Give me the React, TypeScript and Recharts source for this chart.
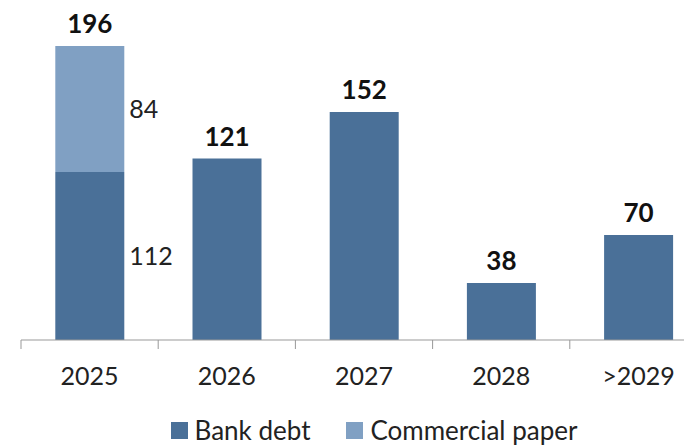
import { BarChart, Bar, XAxis, YAxis, LabelList, Legend } from 'recharts'

const years = ['2025', '2026', '2027', '2028', '>2029']
const bankDebt = [112, 121, 152, 38, 70]
const commercialPaper = [84, 0, 0, 0, 0]

const DARK = '#4a7098'
const LIGHT = '#80a0c3'
const FONT = 'Lato, "Open Sans", sans-serif'

// plot spans 21 → 707, wider than the visible 684px like the original
const CHART_W = 720
const PLOT_LEFT = 21
const PLOT_RIGHT = 707
const BAND = (PLOT_RIGHT - PLOT_LEFT) / years.length

const data = years.map((year, i) => ({
  year,
  bank: bankDebt[i],
  paper: commercialPaper[i],
  total: bankDebt[i] + commercialPaper[i],
}))

type TickProps = { x?: number; y?: number; payload?: { value: string } }

function YearTick({ x = 0, y = 0, payload }: TickProps) {
  const left = x - BAND / 2
  return (
    <g>
      <line x1={left} x2={left} y1={y - 8} y2={y + 1} stroke="#999" strokeWidth={1} />
      <text x={x} y={y + 37} textAnchor="middle" fill="#222" fontSize={25} fontFamily={FONT}>
        {payload?.value}
      </text>
    </g>
  )
}

type LabelProps = { x?: number; y?: number; width?: number; height?: number; value?: number; index?: number }

// segment values beside the stacked bar, only where there is commercial paper
function SideLabel({ x = 0, y = 0, width = 0, height = 0, value, index = 0 }: LabelProps) {
  if (!commercialPaper[index]) return null
  return (
    <text x={x + width + 5} y={y + height / 2} dy="0.36em" fill="#222" fontSize={25} fontFamily={FONT}>
      {value}
    </text>
  )
}

// total on top of the stack: drawn by the top-most non-empty segment
function makeTotal(onPaper: boolean) {
  return function TotalLabel({ x = 0, y = 0, width = 0, index = 0 }: LabelProps) {
    if ((commercialPaper[index] > 0) !== onPaper) return null
    return (
      <text x={x + width / 2} y={y - 13} textAnchor="middle" fill="#111" fontSize={26} fontWeight={700} fontFamily={FONT}>
        {data[index].total}
      </text>
    )
  }
}
const BankTotal = makeTotal(false)
const PaperTotal = makeTotal(true)

function LegendBox() {
  const items = [
    { label: 'Bank debt', color: DARK },
    { label: 'Commercial paper', color: LIGHT },
  ]
  return (
    <div style={{ display: 'flex', justifyContent: 'center', gap: 36, fontFamily: FONT, fontSize: 26, color: '#222', paddingLeft: 20, paddingTop: 14 }}>
      {items.map(it => (
        <span key={it.label} style={{ display: 'flex', alignItems: 'center', gap: 7 }}>
          <span style={{ width: 17, height: 17, background: it.color, display: 'inline-block' }} />
          {it.label}
        </span>
      ))}
    </div>
  )
}

export default function App() {
  return (
    <div style={{ position: 'absolute', left: 0, top: 0, width: 684, height: 446, overflow: 'hidden', background: '#fff' }}>
      <BarChart
        width={CHART_W}
        height={446}
        data={data}
        margin={{ top: 40, right: CHART_W - PLOT_RIGHT, bottom: 0, left: PLOT_LEFT }}
        barCategoryGap="25%"
      >
        <XAxis
          dataKey="year"
          axisLine={{ stroke: '#999' }}
          tickLine={false}
          tick={<YearTick />}
          height={60}
          interval={0}
        />
        <YAxis hide domain={[0, 200]} />
        <Legend verticalAlign="bottom" height={46} content={<LegendBox />} />
        <Bar dataKey="bank" stackId="a" fill={DARK} isAnimationActive={false}>
          <LabelList dataKey="bank" content={<SideLabel />} />
          <LabelList dataKey="total" content={<BankTotal />} />
        </Bar>
        <Bar dataKey="paper" stackId="a" fill={LIGHT} isAnimationActive={false}>
          <LabelList dataKey="paper" content={<SideLabel />} />
          <LabelList dataKey="total" content={<PaperTotal />} />
        </Bar>
      </BarChart>
    </div>
  )
}
